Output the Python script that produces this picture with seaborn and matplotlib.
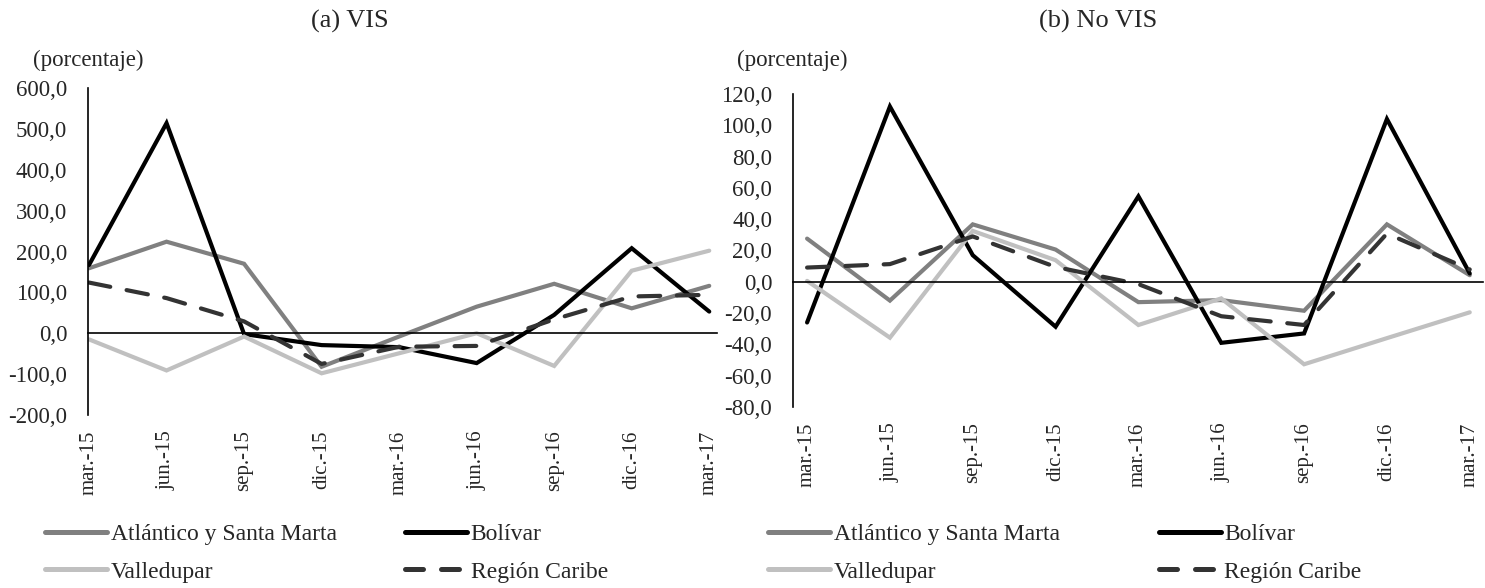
import numpy as np
import pandas as pd
import matplotlib.pyplot as plt
import seaborn as sns
from matplotlib.lines import Line2D
from matplotlib.ticker import FuncFormatter

# === Datos (porcentaje) ===
periodos = ['mar.-15', 'jun.-15', 'sep.-15', 'dic.-15', 'mar.-16',
            'jun.-16', 'sep.-16', 'dic.-16', 'mar.-17']
series = ['Atlántico y Santa Marta', 'Bolívar', 'Valledupar', 'Región Caribe']

# (a) VIS
vis_atlantico = [159, 224, 170, -82, -8, 65, 121, 61, 116]
vis_bolivar = [167, 514, -2, -29, -34, -73, 45, 208, 53]
vis_valledupar = [-15, -91, -8, -98, -49, 0, -80, 153, 202]
vis_caribe = [124, 86, 29, -75, -33, -31, 34, 90, 94]

# (b) No VIS
novis_atlantico = [27.6, -12.0, 36.7, 20.6, -13.0, -11.7, -18.5, 36.7, 4.2]
novis_bolivar = [-26.0, 112.0, 17.0, -28.7, 54.6, -39.0, -33.0, 104.0, 5.3]
novis_valledupar = [0.6, -35.7, 32.5, 13.8, -27.6, -10.6, -52.7, -36.0, -19.5]
novis_caribe = [9.1, 11.3, 29.0, 9.5, -1.5, -22.0, -27.6, 30.8, 7.9]

colores = {'Atlántico y Santa Marta': '#808080', 'Bolívar': '#000000',
           'Valledupar': '#c0c0c0', 'Región Caribe': '#333333'}
estilos = {'Atlántico y Santa Marta': '', 'Bolívar': '',
           'Valledupar': '', 'Región Caribe': (5.2, 4)}


def armar_df(valores):
    filas = []
    for serie, vals in zip(series, valores):
        for i, v in enumerate(vals):
            filas.append({'pos': i, 'periodo': periodos[i], 'serie': serie, 'valor': v})
    return pd.DataFrame(filas)


df_vis = armar_df([vis_atlantico, vis_bolivar, vis_valledupar, vis_caribe])
df_novis = armar_df([novis_atlantico, novis_bolivar, novis_valledupar, novis_caribe])

sns.set_style('white')
plt.rcParams['font.family'] = ['Liberation Serif', 'DejaVu Serif']

W, H = 1485, 588
fig = plt.figure(figsize=(W / 100, H / 100), dpi=100)


def px_axes(x0, y0, x1, y1):
    return fig.add_axes([x0 / W, 1 - y1 / H, (x1 - x0) / W, (y1 - y0) / H])


fmt = FuncFormatter(lambda v, p: f'{v:.1f}'.replace('.', ','))


def dibujar(ax, df, ylim, yticks, xlim):
    sns.lineplot(data=df, x='pos', y='valor', hue='serie', style='serie',
                 hue_order=series, style_order=series, palette=colores,
                 dashes=estilos, linewidth=3, estimator=None, sort=False,
                 legend=False, ax=ax)
    for ln in ax.lines:
        ln.set_dash_capstyle('round')
        ln.set_solid_joinstyle('miter')
    ax.set_xlim(*xlim)
    ax.set_ylim(*ylim)
    ax.set_yticks(yticks)
    ax.yaxis.set_major_formatter(fmt)
    ax.set_xlabel('')
    ax.set_ylabel('')
    for s in ['top', 'right']:
        ax.spines[s].set_visible(False)
    for s in ['left', 'bottom']:
        ax.spines[s].set_color('black')
        ax.spines[s].set_linewidth(1.2)
    # eje x cruzando en cero
    ax.spines['bottom'].set_position(('data', 0))
    ax.set_xticks(np.arange(1, 9) - 0.16)
    ax.tick_params(axis='x', length=6, width=1.2, direction='out',
                   labelbottom=False, color='black')
    ax.tick_params(axis='y', length=6, width=1.2, direction='out',
                   pad=9, labelsize=16.5, color='black')
    # etiquetas de periodos abajo
    sec = ax.secondary_xaxis('bottom')
    sec.set_xticks(range(len(periodos)), labels=periodos)
    sec.tick_params(axis='x', length=0, pad=11, labelrotation=90, labelsize=15)
    sec.spines['bottom'].set_visible(False)


ax1 = px_axes(88, 88, 717, 415)
dibujar(ax1, df_vis, (-200, 600), range(-200, 601, 100), (-0.013, 8.1))

ax2 = px_axes(793, 94, 1483, 407)
dibujar(ax2, df_novis, (-80, 120), range(-80, 121, 20), (-0.17, 8.16))

# titulos y unidades
fig.text(350 / W, 1 - 21 / H, '(a) VIS', ha='center', va='center', fontsize=19)
fig.text(1098 / W, 1 - 21 / H, '(b) No VIS', ha='center', va='center', fontsize=19)
fig.text(33 / W, 1 - 60 / H, '(porcentaje)', ha='left', va='center', fontsize=16.5)
fig.text(737 / W, 1 - 60 / H, '(porcentaje)', ha='left', va='center', fontsize=16.5)

# leyendas (orden por filas: Atlántico, Bolívar / Valledupar, Región Caribe)
orden = ['Atlántico y Santa Marta', 'Valledupar', 'Bolívar', 'Región Caribe']
handles = []
for s in orden:
    if s == 'Región Caribe':
        handles.append(Line2D([], [], color=colores[s], lw=3.6, linestyle=(0, (3.6, 3.6)),
                              dash_capstyle='round'))
    else:
        handles.append(Line2D([], [], color=colores[s], lw=3.6, solid_capstyle='round'))

for x0, colsp in [(45, 2.9), (768, 4.2)]:
    fig.legend(handles, orden, loc='center left', bbox_to_anchor=(x0 / W, 1 - 553 / H),
               ncol=2, frameon=False, fontsize=17, handlelength=2.63,
               handletextpad=0.15, columnspacing=colsp, labelspacing=0.68,
               borderpad=0, borderaxespad=0)

fig.savefig('out.png', dpi=100)
